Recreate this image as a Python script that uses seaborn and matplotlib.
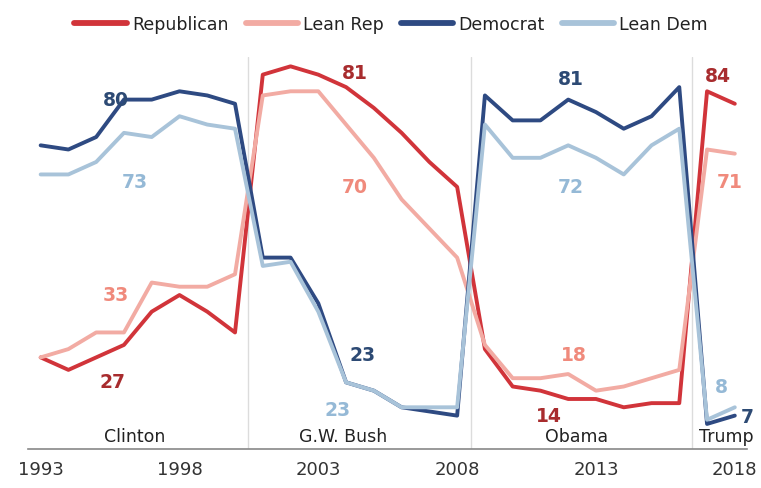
import pandas as pd
import matplotlib.pyplot as plt
import seaborn as sns

years = list(range(1993, 2019))

# yearly approval by party (percent)
republican = [22, 19, 22, 25, 33, 37, 33, 28,
              90, 92, 90, 87, 82, 76, 69, 63,
              24, 15, 14, 12, 12, 10, 11, 11,
              86, 83]
lean_rep = [22, 24, 28, 28, 40, 39, 39, 42,
            85, 86, 86, 78, 70, 60, 53, 46,
            25, 17, 17, 18, 14, 15, 17, 19,
            72, 71]
democrat = [73, 72, 75, 84, 84, 86, 85, 83,
            46, 46, 35, 16, 14, 10, 9, 8,
            85, 79, 79, 84, 81, 77, 80, 87,
            6, 8]
lean_dem = [66, 66, 69, 76, 75, 80, 78, 77,
            44, 45, 33, 16, 14, 10, 10, 10,
            78, 70, 70, 73, 70, 66, 73, 77,
            7, 10]

parties = ["Republican", "Lean Rep", "Democrat", "Lean Dem"]
colors = ["#d1343a", "#f2aba3", "#2e4a82", "#a8c3d9"]
label_colors = ["#a82c2e", "#f08a7c", "#2d4a74", "#95b9d6"]

presidents = ["Clinton", "G.W. Bush", "Obama", "Trump"]
pres_x = [1996.4, 2003.9, 2012.3, 2017.7]
breaks = [2000.45, 2008.5, 2016.45]

# term averages shown next to the lines: (party index, text, x, y)
avg_labels = [
    (2, "80", 1995.7, 84), (3, "73", 1996.4, 64.3),
    (1, "33", 1995.7, 37.1), (0, "27", 1995.6, 16.3),
    (0, "81", 2004.3, 90.6), (1, "70", 2004.3, 63.2),
    (2, "23", 2004.6, 22.6), (3, "23", 2003.7, 9.4),
    (2, "81", 2012.1, 89), (3, "72", 2012.1, 63.2),
    (1, "18", 2012.2, 22.8), (0, "14", 2011.3, 8),
    (0, "84", 2017.4, 89.7), (1, "71", 2017.8, 64.4),
    (3, "8", 2017.5, 14.9), (2, "7", 2018.45, 7.7),
]

df = pd.DataFrame({
    "year": years * 4,
    "value": republican + lean_rep + democrat + lean_dem,
    "party": [p for p in parties for _ in years],
})

sns.set_style("white")
plt.rcParams["font.family"] = ["DejaVu Sans"]

fig = plt.figure(figsize=(7.61, 4.89), dpi=100)
ax = fig.add_axes([0.037, 0.08, 0.945, 0.801])

for b in breaks:
    ax.axvline(b, color="#dcdcdc", lw=1, zorder=0)

sns.lineplot(data=df, x="year", y="value", hue="party", hue_order=parties,
             palette=colors, linewidth=2.8, ax=ax, legend=False)

for i, txt, x, y in avg_labels:
    ax.text(x, y, txt, color=label_colors[i], fontsize=13.5, fontweight="bold",
            ha="center", va="center")

for name, x in zip(presidents, pres_x):
    ax.text(x, 3, name, fontsize=12.5, color="#222222", ha="center", va="center")

ax.set_xlim(1992.55, 2018.45)
ax.set_ylim(0, 94.2)
ax.set_xticks([1993, 1998, 2003, 2008, 2013, 2018])
ax.tick_params(axis="x", labelsize=13, colors="#333333", length=0, pad=8)
ax.set_yticks([])
ax.set_xlabel("")
ax.set_ylabel("")
for s in ["top", "left", "right"]:
    ax.spines[s].set_visible(False)
ax.spines["bottom"].set_color("#888888")
ax.spines["bottom"].set_linewidth(1.2)

handles = [plt.Line2D([], [], color=c, lw=4.2) for c in colors]
fig.legend(handles, parties, loc="upper center", bbox_to_anchor=(0.514, 1.0),
           ncol=4, frameon=False, fontsize=12.5, handlelength=3.0,
           handletextpad=0.3, columnspacing=1.0, labelcolor="#222222")

fig.savefig("out.png", dpi=100)
